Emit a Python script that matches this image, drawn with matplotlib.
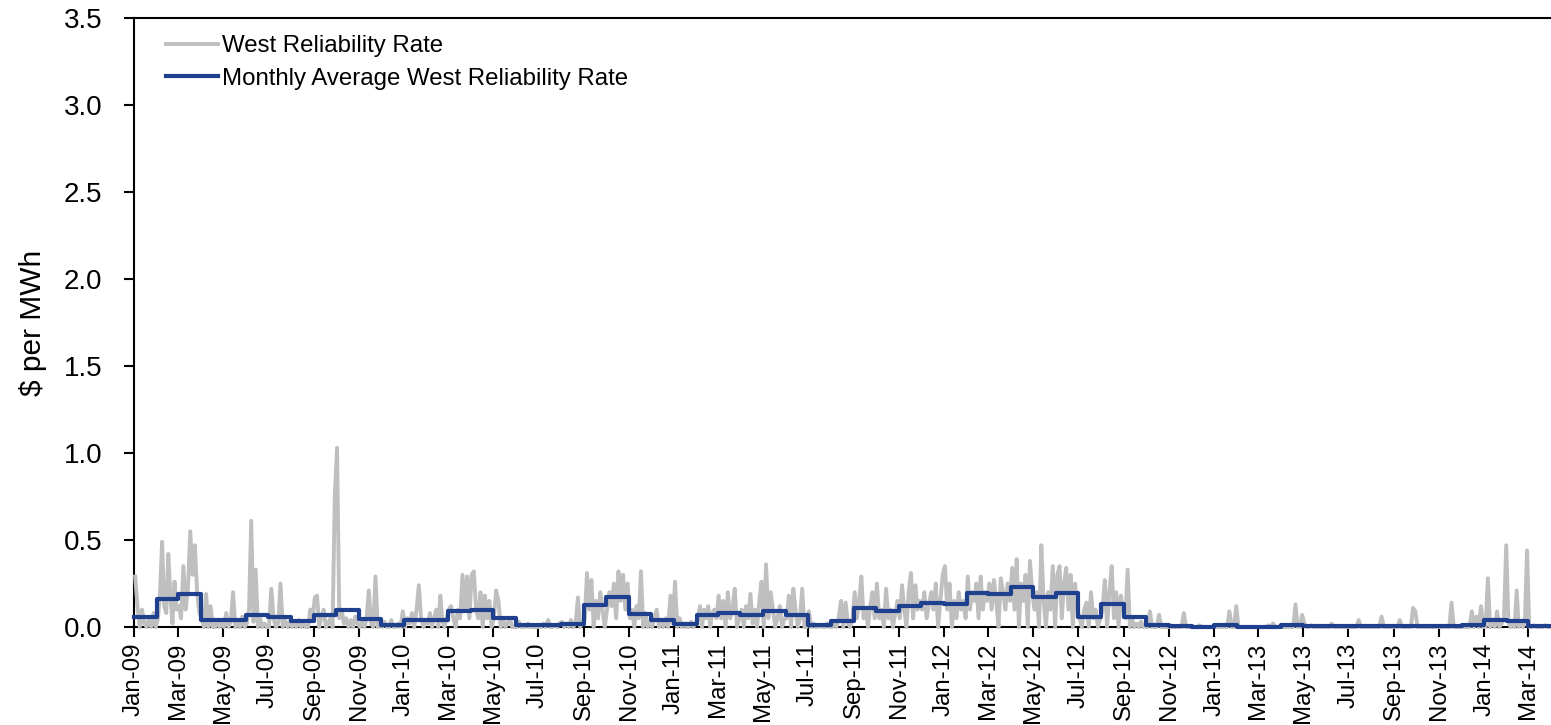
import numpy as np
import pandas as pd
import matplotlib
matplotlib.use('Agg')
import matplotlib.pyplot as plt
import matplotlib.dates as mdates

plt.rcParams['font.family'] = ['Liberation Sans', 'DejaVu Sans']

# daily West reliability rate, sampled ~10 readings per month ($/MWh)
rate_2009 = [
    [0.29, 0.12, 0.0, 0.10, 0.02, 0.0, 0.05, 0.0, 0.08, 0.0],
    [0.05, 0.20, 0.49, 0.12, 0.08, 0.42, 0.18, 0.02, 0.26, 0.10],
    [0.12, 0.05, 0.35, 0.10, 0.22, 0.55, 0.30, 0.47, 0.20, 0.08],
    [0.05, 0.0, 0.19, 0.0, 0.12, 0.0, 0.0, 0.04, 0.0, 0.02],
    [0.0, 0.08, 0.0, 0.03, 0.20, 0.0, 0.02, 0.0, 0.06, 0.0],
    [0.02, 0.10, 0.61, 0.03, 0.33, 0.0, 0.05, 0.0, 0.02, 0.0],
    [0.0, 0.22, 0.05, 0.0, 0.02, 0.25, 0.0, 0.04, 0.0, 0.03],
    [0.0, 0.02, 0.0, 0.04, 0.0, 0.02, 0.0, 0.0, 0.10, 0.05],
    [0.17, 0.18, 0.0, 0.06, 0.10, 0.0, 0.02, 0.05, 0.0, 0.75],
    [1.03, 0.05, 0.10, 0.02, 0.05, 0.0, 0.04, 0.0, 0.06, 0.02],
    [0.0, 0.03, 0.0, 0.05, 0.21, 0.02, 0.0, 0.29, 0.0, 0.02],
    [0.0, 0.03, 0.0, 0.0, 0.04, 0.0, 0.0, 0.02, 0.0, 0.09],
]
rate_2010 = [
    [0.0, 0.05, 0.02, 0.08, 0.0, 0.10, 0.24, 0.05, 0.0, 0.03],
    [0.02, 0.08, 0.0, 0.05, 0.10, 0.0, 0.18, 0.03, 0.0, 0.05],
    [0.10, 0.12, 0.05, 0.0, 0.10, 0.05, 0.30, 0.10, 0.29, 0.05],
    [0.30, 0.32, 0.10, 0.05, 0.20, 0.0, 0.18, 0.05, 0.15, 0.0],
    [0.05, 0.21, 0.15, 0.0, 0.05, 0.0, 0.02, 0.05, 0.0, 0.0],
    [0.0, 0.03, 0.0, 0.0, 0.0, 0.02, 0.0, 0.0, 0.0, 0.0],
    [0.0, 0.0, 0.02, 0.0, 0.04, 0.0, 0.0, 0.01, 0.0, 0.02],
    [0.03, 0.0, 0.02, 0.0, 0.04, 0.0, 0.02, 0.17, 0.0, 0.03],
    [0.05, 0.31, 0.10, 0.27, 0.0, 0.15, 0.05, 0.20, 0.10, 0.0],
    [0.10, 0.20, 0.12, 0.25, 0.05, 0.32, 0.15, 0.30, 0.10, 0.25],
    [0.05, 0.10, 0.0, 0.12, 0.05, 0.32, 0.0, 0.08, 0.0, 0.03],
    [0.0, 0.05, 0.10, 0.0, 0.02, 0.0, 0.05, 0.0, 0.18, 0.02],
]
rate_2011 = [
    [0.26, 0.0, 0.05, 0.0, 0.02, 0.0, 0.0, 0.03, 0.0, 0.02],
    [0.05, 0.12, 0.0, 0.10, 0.05, 0.12, 0.0, 0.08, 0.10, 0.05],
    [0.18, 0.05, 0.15, 0.0, 0.20, 0.05, 0.10, 0.22, 0.0, 0.05],
    [0.10, 0.0, 0.12, 0.05, 0.19, 0.02, 0.10, 0.0, 0.15, 0.26],
    [0.0, 0.36, 0.05, 0.20, 0.10, 0.0, 0.05, 0.12, 0.0, 0.05],
    [0.05, 0.18, 0.0, 0.22, 0.10, 0.0, 0.05, 0.22, 0.0, 0.0],
    [0.09, 0.0, 0.02, 0.0, 0.0, 0.01, 0.0, 0.0, 0.02, 0.0],
    [0.0, 0.02, 0.0, 0.05, 0.15, 0.0, 0.14, 0.02, 0.0, 0.05],
    [0.20, 0.05, 0.15, 0.29, 0.05, 0.10, 0.0, 0.12, 0.20, 0.05],
    [0.25, 0.05, 0.10, 0.0, 0.22, 0.05, 0.10, 0.0, 0.08, 0.15],
    [0.05, 0.24, 0.10, 0.0, 0.20, 0.31, 0.05, 0.24, 0.10, 0.15],
    [0.10, 0.20, 0.05, 0.13, 0.20, 0.10, 0.25, 0.0, 0.15, 0.30],
]
rate_2012 = [
    [0.35, 0.10, 0.25, 0.0, 0.15, 0.05, 0.20, 0.10, 0.15, 0.05],
    [0.29, 0.10, 0.20, 0.15, 0.25, 0.05, 0.29, 0.10, 0.20, 0.15],
    [0.25, 0.10, 0.27, 0.15, 0.0, 0.28, 0.20, 0.10, 0.25, 0.15],
    [0.34, 0.10, 0.39, 0.0, 0.25, 0.15, 0.30, 0.0, 0.38, 0.20],
    [0.10, 0.20, 0.0, 0.47, 0.15, 0.0, 0.20, 0.10, 0.35, 0.0],
    [0.30, 0.35, 0.05, 0.25, 0.34, 0.10, 0.30, 0.0, 0.25, 0.10],
    [0.05, 0.0, 0.10, 0.14, 0.0, 0.20, 0.05, 0.10, 0.0, 0.05],
    [0.10, 0.27, 0.0, 0.20, 0.35, 0.05, 0.20, 0.0, 0.18, 0.10],
    [0.05, 0.33, 0.0, 0.05, 0.0, 0.02, 0.0, 0.03, 0.0, 0.0],
    [0.0, 0.09, 0.0, 0.0, 0.0, 0.07, 0.0, 0.0, 0.0, 0.0],
    [0.0, 0.0, 0.0, 0.0, 0.0, 0.0, 0.08, 0.0, 0.0, 0.0],
    [0.0, 0.0, 0.0, 0.01, 0.0, 0.0, 0.0, 0.0, 0.0, 0.0],
]
rate_2013 = [
    [0.0, 0.0, 0.0, 0.0, 0.0, 0.0, 0.09, 0.0, 0.0, 0.12],
    [0.0, 0.0, 0.0, 0.0, 0.0, 0.0, 0.0, 0.0, 0.0, 0.0],
    [0.0, 0.0, 0.0, 0.0, 0.01, 0.0, 0.02, 0.0, 0.0, 0.0],
    [0.0, 0.0, 0.0, 0.0, 0.0, 0.0, 0.13, 0.0, 0.0, 0.07],
    [0.02, 0.0, 0.0, 0.01, 0.0, 0.0, 0.0, 0.0, 0.0, 0.0],
    [0.0, 0.0, 0.02, 0.0, 0.0, 0.0, 0.0, 0.0, 0.0, 0.0],
    [0.0, 0.0, 0.0, 0.0, 0.04, 0.0, 0.0, 0.0, 0.0, 0.0],
    [0.0, 0.0, 0.0, 0.0, 0.06, 0.0, 0.0, 0.0, 0.0, 0.0],
    [0.0, 0.0, 0.04, 0.0, 0.0, 0.0, 0.0, 0.0, 0.11, 0.09],
    [0.0, 0.0, 0.0, 0.0, 0.0, 0.0, 0.0, 0.0, 0.0, 0.0],
    [0.0, 0.0, 0.0, 0.0, 0.0, 0.14, 0.0, 0.0, 0.0, 0.0],
    [0.0, 0.0, 0.0, 0.0, 0.09, 0.0, 0.06, 0.0, 0.12, 0.0],
]
rate_2014 = [
    [0.0, 0.28, 0.0, 0.03, 0.0, 0.09, 0.0, 0.02, 0.05, 0.47],
    [0.03, 0.0, 0.02, 0.0, 0.21, 0.0, 0.03, 0.0, 0.05, 0.44],
    [0.0, 0.0, 0.01, 0.0, 0.0, 0.0, 0.0, 0.01, 0.0, 0.0],
]

# monthly average, Jan-09 .. Mar-14
monthly_avg = [
    0.06, 0.16, 0.19, 0.04, 0.04, 0.07, 0.06, 0.035, 0.07, 0.10, 0.047, 0.01,
    0.04, 0.04, 0.09, 0.10, 0.05, 0.01, 0.01, 0.017, 0.125, 0.17, 0.075, 0.04,
    0.02, 0.067, 0.08, 0.07, 0.09, 0.07, 0.013, 0.037, 0.11, 0.09, 0.12, 0.14,
    0.135, 0.195, 0.19, 0.23, 0.17, 0.195, 0.06, 0.13, 0.058, 0.01, 0.006, 0.002,
    0.01, 0.002, 0.002, 0.01, 0.006, 0.003, 0.003, 0.004, 0.005, 0.003, 0.003, 0.013,
    0.04, 0.035, 0.004,
]

month_starts = pd.date_range('2009-01-01', periods=len(monthly_avg), freq='MS')

# place the daily readings evenly inside each month
all_months = rate_2009 + rate_2010 + rate_2011 + rate_2012 + rate_2013 + rate_2014
dates = []
vals = []
for start, readings in zip(month_starts, all_months):
    ndays = start.days_in_month
    n = len(readings)
    for i, v in enumerate(readings):
        dates.append(start + pd.Timedelta(days=(i + 0.5) * ndays / n))
        vals.append(v)

step_x = list(month_starts) + [pd.Timestamp('2014-04-01')]
step_y = monthly_avg + [monthly_avg[-1]]

fig = plt.figure(figsize=(15.51, 7.25), dpi=100)
ax = fig.add_axes([134/1551, 98/725, 1 - 134/1551, 609/725])

ax.plot(dates, vals, color='#bfbfbf', lw=2.8, zorder=3, clip_on=False,
        label='West Reliability Rate')
ax.step(step_x, step_y, where='post', color='#1f3f8f', lw=3.0, zorder=4,
        clip_on=False, label='Monthly Average West Reliability Rate')

ax.set_xlim(pd.Timestamp('2009-01-01'), pd.Timestamp('2014-04-01'))
ax.set_ylim(0, 3.5)
ax.set_yticks(np.arange(0, 3.51, 0.5))
ax.yaxis.set_major_formatter(matplotlib.ticker.FormatStrFormatter('%.1f'))

ax.xaxis.set_major_locator(mdates.MonthLocator(bymonth=[1, 3, 5, 7, 9, 11]))
ax.xaxis.set_major_formatter(mdates.DateFormatter('%b-%y'))

ax.tick_params(axis='both', direction='out', length=7, width=1.5, colors='black')
ax.tick_params(axis='y', labelsize=20, pad=16)
ax.tick_params(axis='x', labelsize=17.3, pad=4, labelrotation=90)

for s in ['left', 'bottom', 'top']:
    ax.spines[s].set_linewidth(1.5)
    ax.spines[s].set_color('black')
ax.spines['right'].set_visible(False)

ax.set_ylabel('$ per MWh', fontsize=21.5, labelpad=12)

leg = ax.legend(loc='upper left', frameon=False, fontsize=17.3, handlelength=2.2,
                handletextpad=0.15, labelspacing=0.43,
                bbox_to_anchor=(0.007, 1.007))

plt.savefig('out.png', dpi=100)
